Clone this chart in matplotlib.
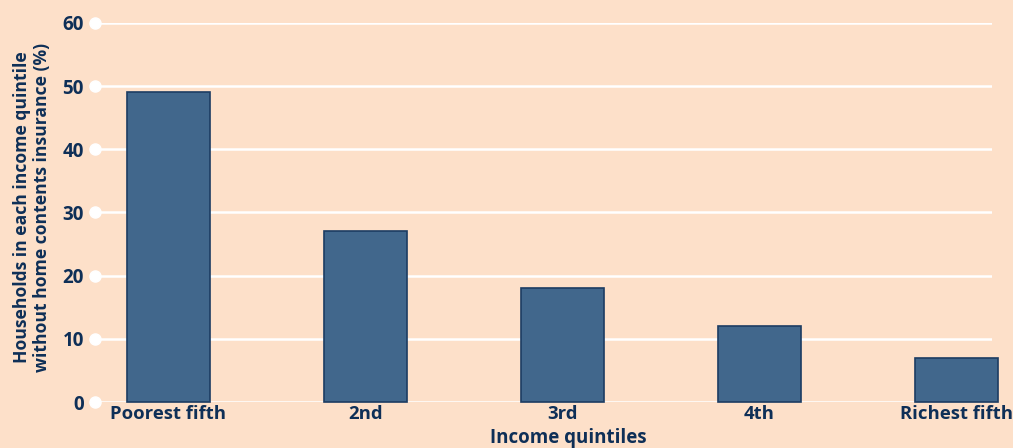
import matplotlib
matplotlib.use("Agg")
import matplotlib.pyplot as plt

categories = ["Poorest fifth", "2nd", "3rd", "4th", "Richest fifth"]
values = [49, 27, 18, 12, 7]
yticks = [0, 10, 20, 30, 40, 50, 60]

bg = "#fde0c9"
navy = "#0e2f57"
bar_color = "#41678c"
edge_color = "#1c3c62"

plt.rcParams['font.family'] = ['Open Sans', 'DejaVu Sans']

fig = plt.figure(figsize=(10.13, 4.48), dpi=100, facecolor=bg)
ax = fig.add_axes([95/1013, (448-402)/448, (992-95)/1013, (402-23)/448])
ax.set_facecolor(bg)

x = list(range(len(categories)))
bars = ax.bar(x, values, width=0.42, color=bar_color, edgecolor=edge_color,
              linewidth=1.2, zorder=3, clip_on=False)

ax.set_xlim(-0.373, 4.18)
ax.set_ylim(0, 60)
ax.set_yticks(yticks)
for t in yticks:
    ax.axhline(t, color="white", linewidth=1.8, zorder=1)
ax.plot([-0.373]*len(yticks), yticks, 'o', color="white", markersize=8,
        clip_on=False, zorder=4)

ax.set_xticks(x)
ax.set_xticklabels(categories, fontsize=13.3, fontweight='bold', color=navy)
ax.set_yticklabels([str(t) for t in yticks], fontsize=13.5, fontweight='bold', color=navy)
ax.tick_params(axis='both', length=0)
ax.tick_params(axis='x', pad=2)
ax.tick_params(axis='y', pad=8)
for s in ax.spines.values():
    s.set_visible(False)

fig.text(568/1013, 1-438/448, "Income quintiles", ha='center', va='center',
         fontsize=13.5, fontweight='bold', color=navy)
fig.text(32/1013, 1-207/448,
         "Households in each income quintile\nwithout home contents insurance (%)",
         rotation=90, ha='center', va='center', fontsize=12.6, fontweight='bold',
         color=navy, linespacing=1.15)

fig.savefig("out.png", dpi=100, facecolor=bg)
